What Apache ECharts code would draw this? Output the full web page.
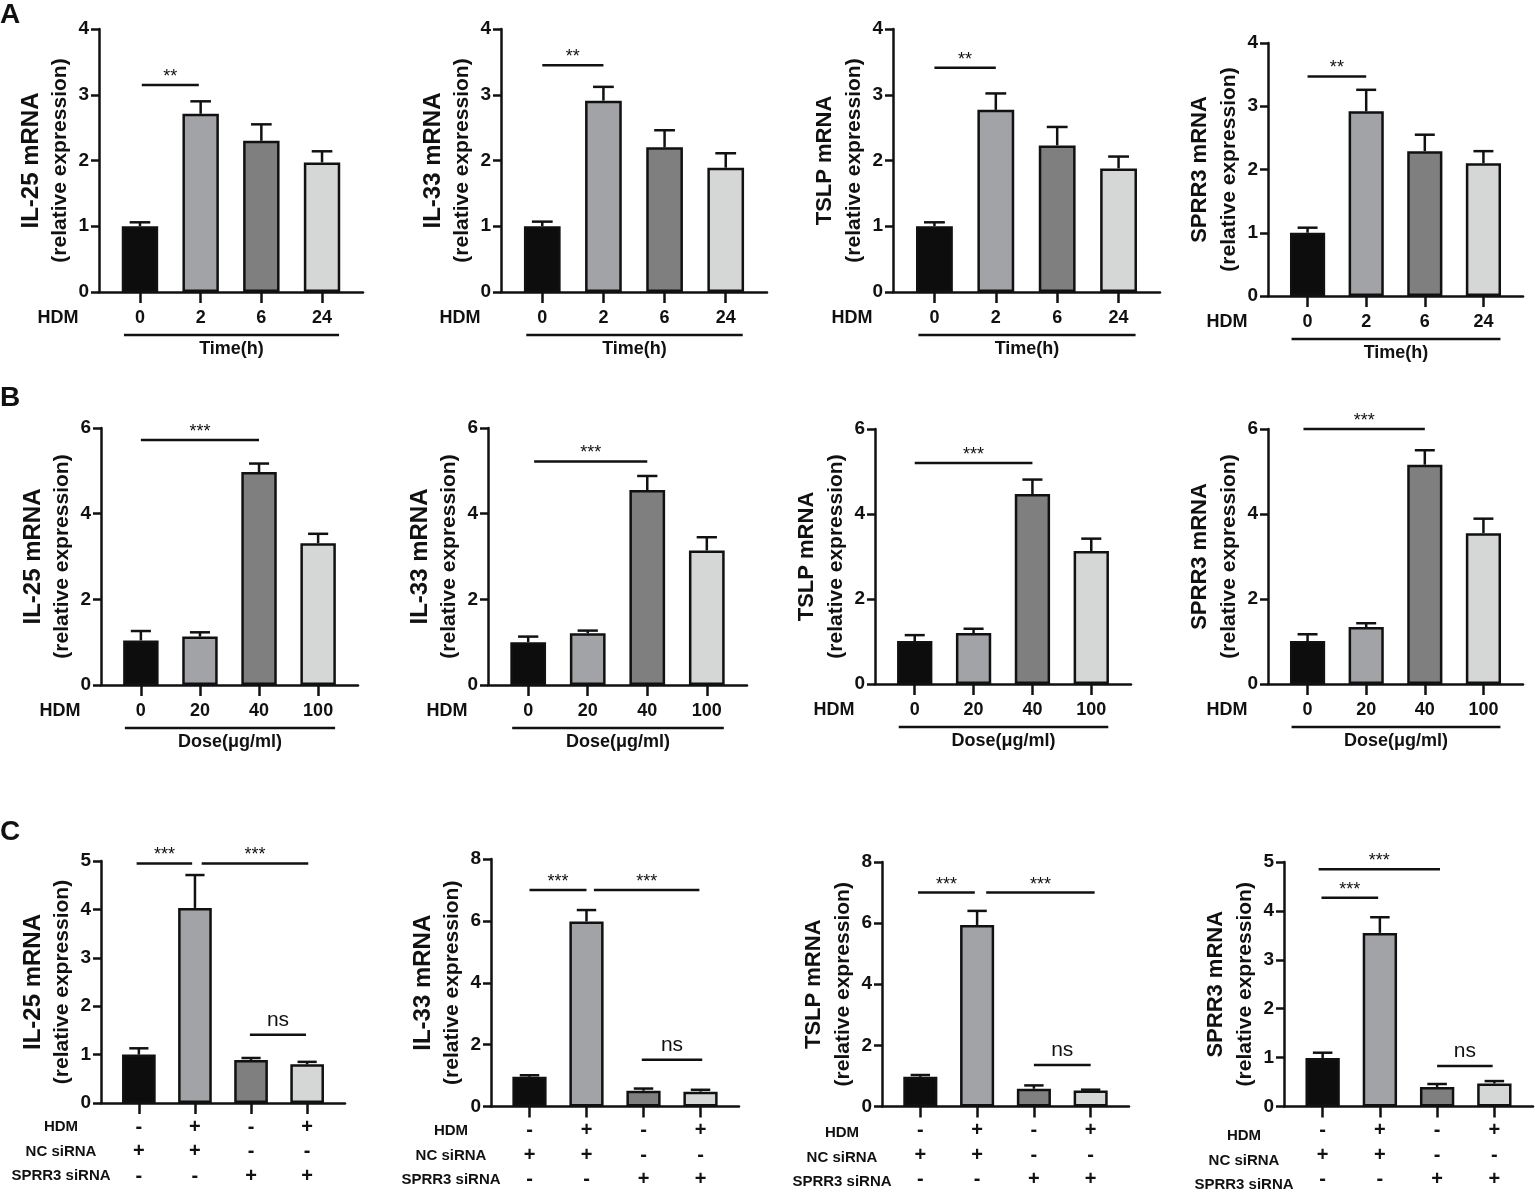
<!DOCTYPE html>
<html>
<head>
<meta charset="utf-8">
<script src="https://cdn.jsdelivr.net/npm/echarts@6.0.0/dist/echarts.min.js"></script>
<style>
  html, body { margin: 0; padding: 0; background: #fff; }
  #main { width: 1535px; height: 1192px; }
</style>
</head>
<body>
<div id="main"></div>
<script>
// 横轴标签
var timeLabels = ['0', '2', '6', '24'];
var doseLabels = ['0', '20', '40', '100'];
var hdmSigns = ['-', '+', '-', '+'];
var ncSigns = ['+', '+', '-', '-'];
var sprrSigns = ['-', '-', '+', '+'];

// 纵轴刻度
var ticks4 = [0, 1, 2, 3, 4];
var ticks5 = [0, 1, 2, 3, 4, 5];
var ticks6 = [0, 2, 4, 6];
var ticks8 = [0, 2, 4, 6, 8];

// A: 时间梯度 (均值, 误差)
var il25Time = [1.00, 2.71, 2.30, 1.97];
var il25TimeErr = [0.06, 0.19, 0.25, 0.17];
var il33Time = [1.00, 2.91, 2.20, 1.89];
var il33TimeErr = [0.07, 0.21, 0.26, 0.22];
var tslpTime = [1.00, 2.77, 2.23, 1.88];
var tslpTimeErr = [0.06, 0.25, 0.28, 0.18];
var sprr3Time = [1.00, 2.92, 2.29, 2.10];
var sprr3TimeErr = [0.08, 0.34, 0.26, 0.19];

// B: 剂量梯度
var il25Dose = [1.04, 1.13, 4.97, 3.31];
var il25DoseErr = [0.22, 0.10, 0.20, 0.22];
var il33Dose = [1.00, 1.21, 4.55, 3.14];
var il33DoseErr = [0.13, 0.06, 0.33, 0.31];
var tslpDose = [1.01, 1.20, 4.47, 3.13];
var tslpDoseErr = [0.14, 0.10, 0.34, 0.29];
var sprr3Dose = [1.01, 1.34, 5.16, 3.55];
var sprr3DoseErr = [0.16, 0.09, 0.34, 0.34];

// C: siRNA
var il25Si = [1.00, 4.03, 0.89, 0.80];
var il25SiErr = [0.13, 0.68, 0.04, 0.05];
var il33Si = [0.96, 5.98, 0.51, 0.48];
var il33SiErr = [0.05, 0.37, 0.07, 0.06];
var tslpSi = [0.97, 5.94, 0.58, 0.52];
var tslpSiErr = [0.06, 0.46, 0.11, 0.03];
var sprr3Si = [0.99, 3.55, 0.40, 0.47];
var sprr3SiErr = [0.11, 0.32, 0.06, 0.05];

// 显著性标注 [起点, 终点, 高度, 文字]
var sigA1 = [[0.03, 0.97, 3.15, '**']];
var sigA2 = [[0, 1, 3.45, '**']];
var sigA3 = [[0, 1, 3.41, '**']];
var sigA4 = [[0, 1, 3.47, '**']];
var sigB1 = [[0, 2, 5.72, '***']];
var sigB2 = [[0.1, 2, 5.22, '***']];
var sigB3 = [[0, 2, 5.20, '***']];
var sigB4 = [[-0.07, 2, 6.00, '***']];
var sigC1 = [[-0.04, 0.95, 4.95, '***'], [1.12, 3.02, 4.95, '***'], [1.98, 2.98, 1.41, 'ns']];
var sigC2 = [[0, 1, 7.0, '***'], [1.13, 2.98, 7.0, '***'], [1.97, 3.03, 1.51, 'ns']];
var sigC3 = [[-0.04, 0.96, 7.0, '***'], [1.16, 3.07, 7.0, '***'], [2.0, 3.0, 1.36, 'ns']];
var sigC4 = [[-0.02, 0.97, 4.27, '***'], [-0.07, 2.05, 4.85, '***'], [2.0, 2.97, 0.83, 'ns']];

var FONT = '"Liberation Sans", Arial, Helvetica, sans-serif';
var INK = '#111';
var barColors = ['#0d0d0d', '#a2a3a7', '#7f7f7f', '#d5d6d6'];
var PAD = 0.675;

// 每个小图: 位置 [left, right, top, bottom(0)]
var panels = [
  { row: 'A', gene: 'IL-25', big: true, mean: il25Time, err: il25TimeErr, ticks: ticks4, sig: sigA1, box: [99, 363, 29, 292] },
  { row: 'A', gene: 'IL-33', big: true, mean: il33Time, err: il33TimeErr, ticks: ticks4, sig: sigA2, box: [501, 767, 29, 292] },
  { row: 'A', gene: 'TSLP', big: false, mean: tslpTime, err: tslpTimeErr, ticks: ticks4, sig: sigA3, box: [893, 1160, 29, 292] },
  { row: 'A', gene: 'SPRR3', big: false, mean: sprr3Time, err: sprr3TimeErr, ticks: ticks4, sig: sigA4, box: [1268, 1523, 43, 296] },
  { row: 'B', gene: 'IL-25', big: true, mean: il25Dose, err: il25DoseErr, ticks: ticks6, sig: sigB1, box: [101, 358, 428, 685] },
  { row: 'B', gene: 'IL-33', big: true, mean: il33Dose, err: il33DoseErr, ticks: ticks6, sig: sigB2, box: [488, 747, 428, 685] },
  { row: 'B', gene: 'TSLP', big: false, mean: tslpDose, err: tslpDoseErr, ticks: ticks6, sig: sigB3, box: [875, 1131, 429, 684] },
  { row: 'B', gene: 'SPRR3', big: false, mean: sprr3Dose, err: sprr3DoseErr, ticks: ticks6, sig: sigB4, box: [1268, 1523, 429, 684] },
  { row: 'C', gene: 'IL-25', big: true, mean: il25Si, err: il25SiErr, ticks: ticks5, sig: sigC1, box: [101, 345, 861, 1103] },
  { row: 'C', gene: 'IL-33', big: true, mean: il33Si, err: il33SiErr, ticks: ticks8, sig: sigC2, box: [491, 739, 859, 1107] },
  { row: 'C', gene: 'TSLP', big: false, mean: tslpSi, err: tslpSiErr, ticks: ticks8, sig: sigC3, box: [882, 1129, 862, 1109] },
  { row: 'C', gene: 'SPRR3', big: false, mean: sprr3Si, err: sprr3SiErr, ticks: ticks5, sig: sigC4, box: [1284, 1533, 862, 1112] }
];

var option = {
  animation: false,
  backgroundColor: '#fff',
  textStyle: { fontFamily: FONT, color: INK },
  grid: [], xAxis: [], yAxis: [], series: [],
  graphic: [
    { type: 'text', x: 0, y: 15, style: { text: 'A', font: 'bold 28px ' + FONT, fill: INK, textVerticalAlign: 'middle' } },
    { type: 'text', x: 0, y: 398, style: { text: 'B', font: 'bold 28px ' + FONT, fill: INK, textVerticalAlign: 'middle' } },
    { type: 'text', x: 0, y: 832, style: { text: 'C', font: 'bold 28px ' + FONT, fill: INK, textVerticalAlign: 'middle' } }
  ]
};

function txt(s, x, y, font) {
  return { type: 'text', x: x, y: y, style: { text: s, font: font, fill: INK, textAlign: 'center', textVerticalAlign: 'middle' } };
}

panels.forEach(function (p, k) {
  var b = p.box;
  var w = b[1] - b[0];
  var unit = w / (3 + 2 * PAD);
  var barW = 0.6 * unit;
  var cap = 0.53 * (barW + 2.5);
  var px = function (i) { return b[0] + (i + PAD) * unit; };
  var isC = p.row === 'C';
  var yMax = p.ticks[p.ticks.length - 1];

  option.grid.push({ left: b[0], top: b[2], width: w, height: b[3] - b[2] });

  option.xAxis.push({
    type: 'value', gridIndex: k, min: -PAD, max: 3 + PAD,
    axisLine: { onZero: false, lineStyle: { color: INK, width: 2.5 } },
    axisTick: { show: true, length: 11, customValues: [0, 1, 2, 3], lineStyle: { color: INK, width: 2.5 } },
    axisLabel: {
      customValues: [0, 1, 2, 3],
      margin: isC ? 12 : 16,
      color: INK, fontFamily: FONT, fontWeight: 'bold',
      fontSize: isC ? 20 : 18, lineHeight: isC ? 24.5 : 20,
      formatter: function (v) {
        var i = Math.round(v);
        if (isC) return hdmSigns[i] + '\n' + ncSigns[i] + '\n' + sprrSigns[i];
        return p.row === 'A' ? timeLabels[i] : doseLabels[i];
      }
    },
    splitLine: { show: false }
  });

  option.yAxis.push({
    type: 'value', gridIndex: k, min: 0, max: yMax, interval: p.ticks[1] - p.ticks[0],
    name: '{a|' + p.gene + ' mRNA}\n{b|(relative expression)}',
    nameLocation: 'middle', nameGap: 27,
    nameTextStyle: {
      color: INK,
      rich: {
        a: { fontFamily: FONT, fontWeight: 'bold', fontSize: p.big ? 24 : 22, lineHeight: 34, color: INK },
        b: { fontFamily: FONT, fontWeight: 'bold', fontSize: 21, lineHeight: 24, color: INK }
      }
    },
    axisLine: { show: true, onZero: false, lineStyle: { color: INK, width: 2.5 } },
    axisTick: { show: true, length: 8, lineStyle: { color: INK, width: 2.5 } },
    axisLabel: { show: false },
    splitLine: { show: false }
  });

  // 纵轴刻度文字
  option.series.push({
    type: 'custom', xAxisIndex: k, yAxisIndex: k, z: 5, silent: true,
    data: p.ticks.map(function (v) { return [-PAD, v]; }),
    encode: { x: 0, y: 1 },
    renderItem: function (params, api) {
      var c = api.coord([api.value(0), api.value(1)]);
      return { type: 'text', x: c[0] - 10, y: c[1],
        style: { text: String(api.value(1)), font: 'bold 19px ' + FONT, fill: INK, textAlign: 'right', textVerticalAlign: 'middle' } };
    }
  });

  option.series.push({
    type: 'bar', xAxisIndex: k, yAxisIndex: k, barWidth: barW, z: 2,
    itemStyle: { borderColor: INK, borderWidth: 2.5 },
    data: p.mean.map(function (v, i) { return { value: [i, v], itemStyle: { color: barColors[i] } }; })
  });

  // 误差线 (只画上半部分)
  option.series.push({
    type: 'custom', xAxisIndex: k, yAxisIndex: k, z: 3,
    data: p.mean.map(function (v, i) { return [i, v, p.err[i]]; }),
    encode: { x: 0, y: 1 },
    renderItem: function (params, api) {
      var x = api.value(0), m = api.value(1), e = api.value(2);
      var lo = api.coord([x, m]), hi = api.coord([x, m + e]);
      var st = { stroke: INK, lineWidth: 2.5 };
      return { type: 'group', children: [
        { type: 'line', shape: { x1: lo[0], y1: lo[1], x2: hi[0], y2: hi[1] }, style: st },
        { type: 'line', shape: { x1: hi[0] - cap / 2, y1: hi[1], x2: hi[0] + cap / 2, y2: hi[1] }, style: st }
      ] };
    }
  });

  // 显著性
  option.series.push({
    type: 'custom', xAxisIndex: k, yAxisIndex: k, z: 4,
    data: p.sig.map(function (s) { return [s[0], s[2]]; }),
    encode: { x: 0, y: 1 },
    renderItem: function (params, api) {
      var s = p.sig[params.dataIndex];
      var a = api.coord([s[0], s[2]]), c = api.coord([s[1], s[2]]);
      var ns = s[3] === 'ns';
      return { type: 'group', children: [
        { type: 'line', shape: { x1: a[0], y1: a[1], x2: c[0], y2: c[1] }, style: { stroke: INK, lineWidth: 2.5 } },
        { type: 'text', x: (a[0] + c[0]) / 2, y: a[1] - (ns ? 15 : 8),
          style: { text: s[3], font: (ns ? '21px ' : '18px ') + FONT, fill: INK, textAlign: 'center', textVerticalAlign: 'middle' } }
      ] };
    }
  });

  if (isC) {
    option.graphic.push(txt('HDM', b[0] - 40, b[3] + 24, 'bold 15px ' + FONT));
    option.graphic.push(txt('NC siRNA', b[0] - 40, b[3] + 49, 'bold 15px ' + FONT));
    option.graphic.push(txt('SPRR3 siRNA', b[0] - 40, b[3] + 73, 'bold 15px ' + FONT));
  } else {
    var x1 = px(0) - 16, x2 = px(3) + 17;
    option.graphic.push(txt('HDM', b[0] - 41, b[3] + 26, 'bold 18px ' + FONT));
    option.graphic.push({ type: 'line', shape: { x1: x1, y1: b[3] + 43, x2: x2, y2: b[3] + 43 }, style: { stroke: INK, lineWidth: 2.5 } });
    option.graphic.push(txt(p.row === 'A' ? 'Time(h)' : 'Dose(μg/ml)', (x1 + x2) / 2, b[3] + 57, 'bold 18px ' + FONT));
  }
});

var myChart = echarts.init(document.getElementById('main'));
myChart.setOption(option);
</script>
</body>
</html>
